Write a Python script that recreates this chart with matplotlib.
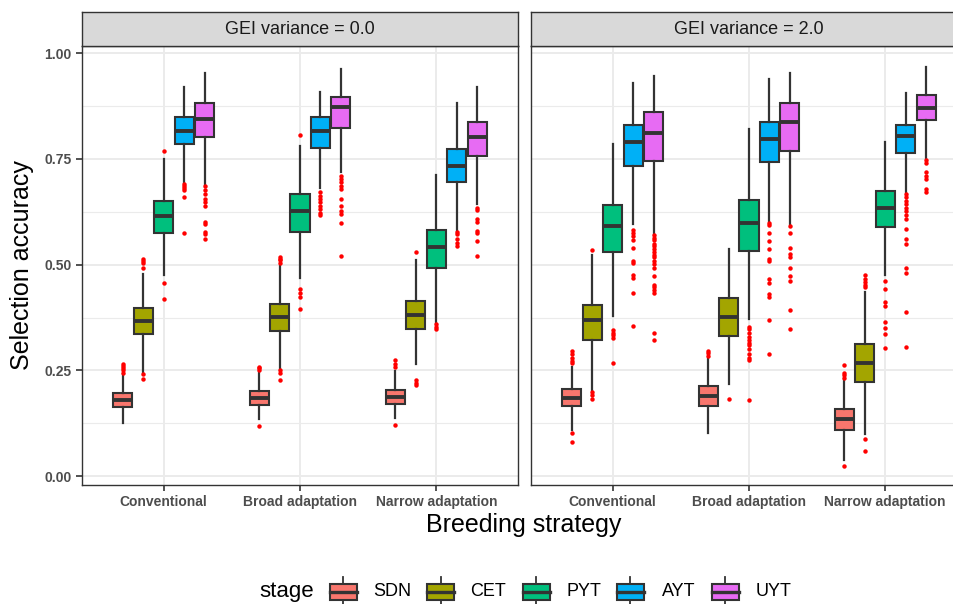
import matplotlib
matplotlib.use('Agg')
import matplotlib.pyplot as plt
from matplotlib.patches import Rectangle
from matplotlib.lines import Line2D
from matplotlib.ticker import MultipleLocator

plt.rcParams['font.family'] = ['Liberation Sans', 'DejaVu Sans']

stages = ['SDN', 'CET', 'PYT', 'AYT', 'UYT']
strategies = ['Conventional', 'Broad adaptation', 'Narrow adaptation']
panels = ['GEI variance = 0.0', 'GEI variance = 2.0']
colors = ['#F8766D', '#A3A500', '#00BF7D', '#00B0F6', '#E76BF3']

# rows = strategy, columns = stage (SDN, CET, PYT, AYT, UYT)
# GEI variance = 0.0
lo0 = [[.125, .244, .476, .694, .688],
       [.134, .252, .469, .682, .718],
       [.138, .264, .363, .580, .643]]
q1_0 = [[.164, .335, .576, .785, .803],
        [.168, .344, .578, .777, .823],
        [.170, .347, .493, .696, .758]]
med0 = [[.181, .367, .614, .817, .844],
        [.185, .377, .627, .817, .873],
        [.187, .382, .542, .733, .803]]
q3_0 = [[.196, .398, .651, .848, .883],
        [.201, .408, .666, .848, .897],
        [.203, .414, .582, .774, .838]]
hi0 = [[.241, .477, .749, .919, .954],
       [.248, .497, .781, .909, .962],
       [.248, .510, .711, .883, .920]]
out0 = [[[.245, .250, .255, .260, .264],
         [.514, .509, .503, .493, .241, .229],
         [.769, .457, .418],
         [.690, .686, .682, .677, .661, .576],
         [.685, .677, .666, .655, .647, .639, .601, .595, .577, .572, .560]],
        [[.259, .255, .251, .118],
         [.519, .514, .510, .505, .250, .243, .227],
         [.807, .443, .434, .424, .396],
         [.672, .662, .655, .647, .639, .631, .621, .617],
         [.710, .703, .695, .686, .678, .656, .639, .627, .619, .599, .521]],
        [[.274, .264, .258, .121],
         [.530, .227, .221, .215],
         [.359, .353, .347],
         [.577, .572, .560, .552, .544],
         [.635, .629, .607, .601, .580, .576, .556, .521]]]

# GEI variance = 2.0
lo2 = [[.109, .203, .379, .595, .573],
       [.103, .218, .371, .603, .595],
       [.039, .100, .475, .672, .753]]
q1_2 = [[.166, .323, .530, .733, .746],
        [.166, .331, .533, .743, .768],
        [.109, .222, .589, .765, .841]]
med2 = [[.185, .368, .591, .791, .811],
        [.189, .377, .599, .797, .838],
        [.136, .267, .633, .804, .871]]
q3_2 = [[.207, .405, .641, .830, .862],
        [.213, .420, .652, .838, .883],
        [.159, .313, .674, .830, .901]]
hi2 = [[.259, .522, .785, .929, .945],
       [.276, .536, .820, .938, .953],
       [.229, .436, .791, .905, .968]]
out2 = [[[.296, .288, .280, .272, .267, .101, .080],
         [.535, .199, .191, .183],
         [.345, .339, .333, .326, .268],
         [.582, .576, .568, .558, .540, .509, .505, .475, .469, .432, .355],
         [.569, .564, .558, .550, .544, .538, .531, .524, .517, .509, .501,
          .491, .473, .451, .446, .440, .434, .338, .321]],
        [[.296, .290, .284],
         [.183],
         [.353, .347, .339, .330, .323, .315, .309, .300, .288, .280, .274, .181],
         [.599, .593, .576, .556, .536, .514, .509, .465, .457, .430, .424, .369, .288],
         [.591, .574, .540, .526, .517, .491, .473, .461, .392, .349]],
        [[.262, .244, .238, .233, .025],
         [.475, .467, .459, .451, .446, .087, .059],
         [.461, .442, .412, .402, .364, .351, .335, .304],
         [.666, .659, .651, .643, .635, .627, .618, .607, .585, .560, .550,
          .491, .481, .389, .305],
         [.748, .740, .718, .710, .702, .678, .672]]]

W, H = 954, 604
DARK = '#333333'


def fx(px):
    return px / W


def fy(py):
    return 1 - py / H


fig = plt.figure(figsize=(W / 100, H / 100), dpi=100)

data = [(lo0, q1_0, med0, q3_0, hi0, out0), (lo2, q1_2, med2, q3_2, hi2, out2)]
lefts = [82, 531]
pw, ph = 436, 439

for p, (lo, q1, med, q3, hi, out) in enumerate(data):
    ax = fig.add_axes([fx(lefts[p]), fy(485), pw / W, ph / H])
    ax.set_xlim(0.4, 3.6)
    ax.set_ylim(-0.021, 1.017)
    ax.set_axisbelow(True)
    ax.yaxis.set_minor_locator(MultipleLocator(0.125))
    ax.set_yticks([0, 0.25, 0.5, 0.75, 1.0])
    ax.set_yticklabels(['0.00', '0.25', '0.50', '0.75', '1.00'])
    ax.grid(which='major', color='#EBEBEB', lw=1.4)
    ax.grid(which='minor', axis='y', color='#EBEBEB', lw=0.8)
    ax.tick_params(which='minor', length=0)
    ax.tick_params(which='major', length=4, width=1.2, color=DARK,
                   labelsize=10, labelcolor='#4D4D4D')
    for s in ax.spines.values():
        s.set_color(DARK)
        s.set_linewidth(1.0)

    for j, st in enumerate(stages):
        stats = []
        for i in range(len(strategies)):
            stats.append(dict(whislo=lo[i][j], q1=q1[i][j], med=med[i][j],
                              q3=q3[i][j], whishi=hi[i][j], fliers=out[i][j]))
        pos = [i + 1 + (j - 2) * 0.15 for i in range(len(strategies))]
        ax.bxp(stats, positions=pos, widths=0.14, patch_artist=True,
               showcaps=False, manage_ticks=False,
               boxprops=dict(facecolor=colors[j], edgecolor=DARK, lw=1.5),
               medianprops=dict(color=DARK, lw=2.8),
               whiskerprops=dict(color=DARK, lw=1.6),
               flierprops=dict(marker='o', markerfacecolor='red',
                               markeredgecolor='none', markersize=3.2))

    ax.set_xticks([1, 2, 3])
    ax.set_xticklabels(strategies, fontweight='bold')
    for lab in ax.get_yticklabels():
        lab.set_fontweight('bold')
    if p == 1:
        ax.tick_params(axis='y', left=False, labelleft=False)

    sx = fig.add_axes([fx(lefts[p]), fy(46), pw / W, 34 / H])
    sx.set_facecolor('#D9D9D9')
    sx.set_xticks([])
    sx.set_yticks([])
    for s in sx.spines.values():
        s.set_color(DARK)
        s.set_linewidth(1.0)
    sx.text(0.5, 0.5, panels[p], ha='center', va='center', fontsize=13,
            color='#1A1A1A', transform=sx.transAxes)

fig.text(fx(22), fy(265), 'Selection accuracy', rotation=90, ha='center',
         va='center', fontsize=18)
fig.text(fx(524), fy(525), 'Breeding strategy', ha='center', va='center',
         fontsize=18)

# legend drawn by hand so the title sits left of the keys, like ggplot
fig.text(fx(259), fy(592), 'stage', ha='left', va='center', fontsize=16)
key_x = [330, 427, 523, 617, 712]
lab_x = [373, 470, 567, 662, 756]
kw = 27
for j, st in enumerate(stages):
    x0 = key_x[j]
    xm = x0 + kw / 2
    for ya, yb in [(577, 584), (600, 604)]:
        fig.add_artist(Line2D([fx(xm), fx(xm)], [fy(ya), fy(yb)], color=DARK,
                              lw=1.3, transform=fig.transFigure))
    fig.add_artist(Rectangle((fx(x0), fy(600)), kw / W, 16 / H,
                             facecolor=colors[j], edgecolor=DARK, lw=1.5,
                             transform=fig.transFigure))
    fig.add_artist(Line2D([fx(x0), fx(x0 + kw)], [fy(592), fy(592)],
                          color=DARK, lw=2.4, transform=fig.transFigure))
    fig.text(fx(lab_x[j]), fy(592), st, ha='left', va='center', fontsize=13)

fig.savefig('out.png', dpi=100)
